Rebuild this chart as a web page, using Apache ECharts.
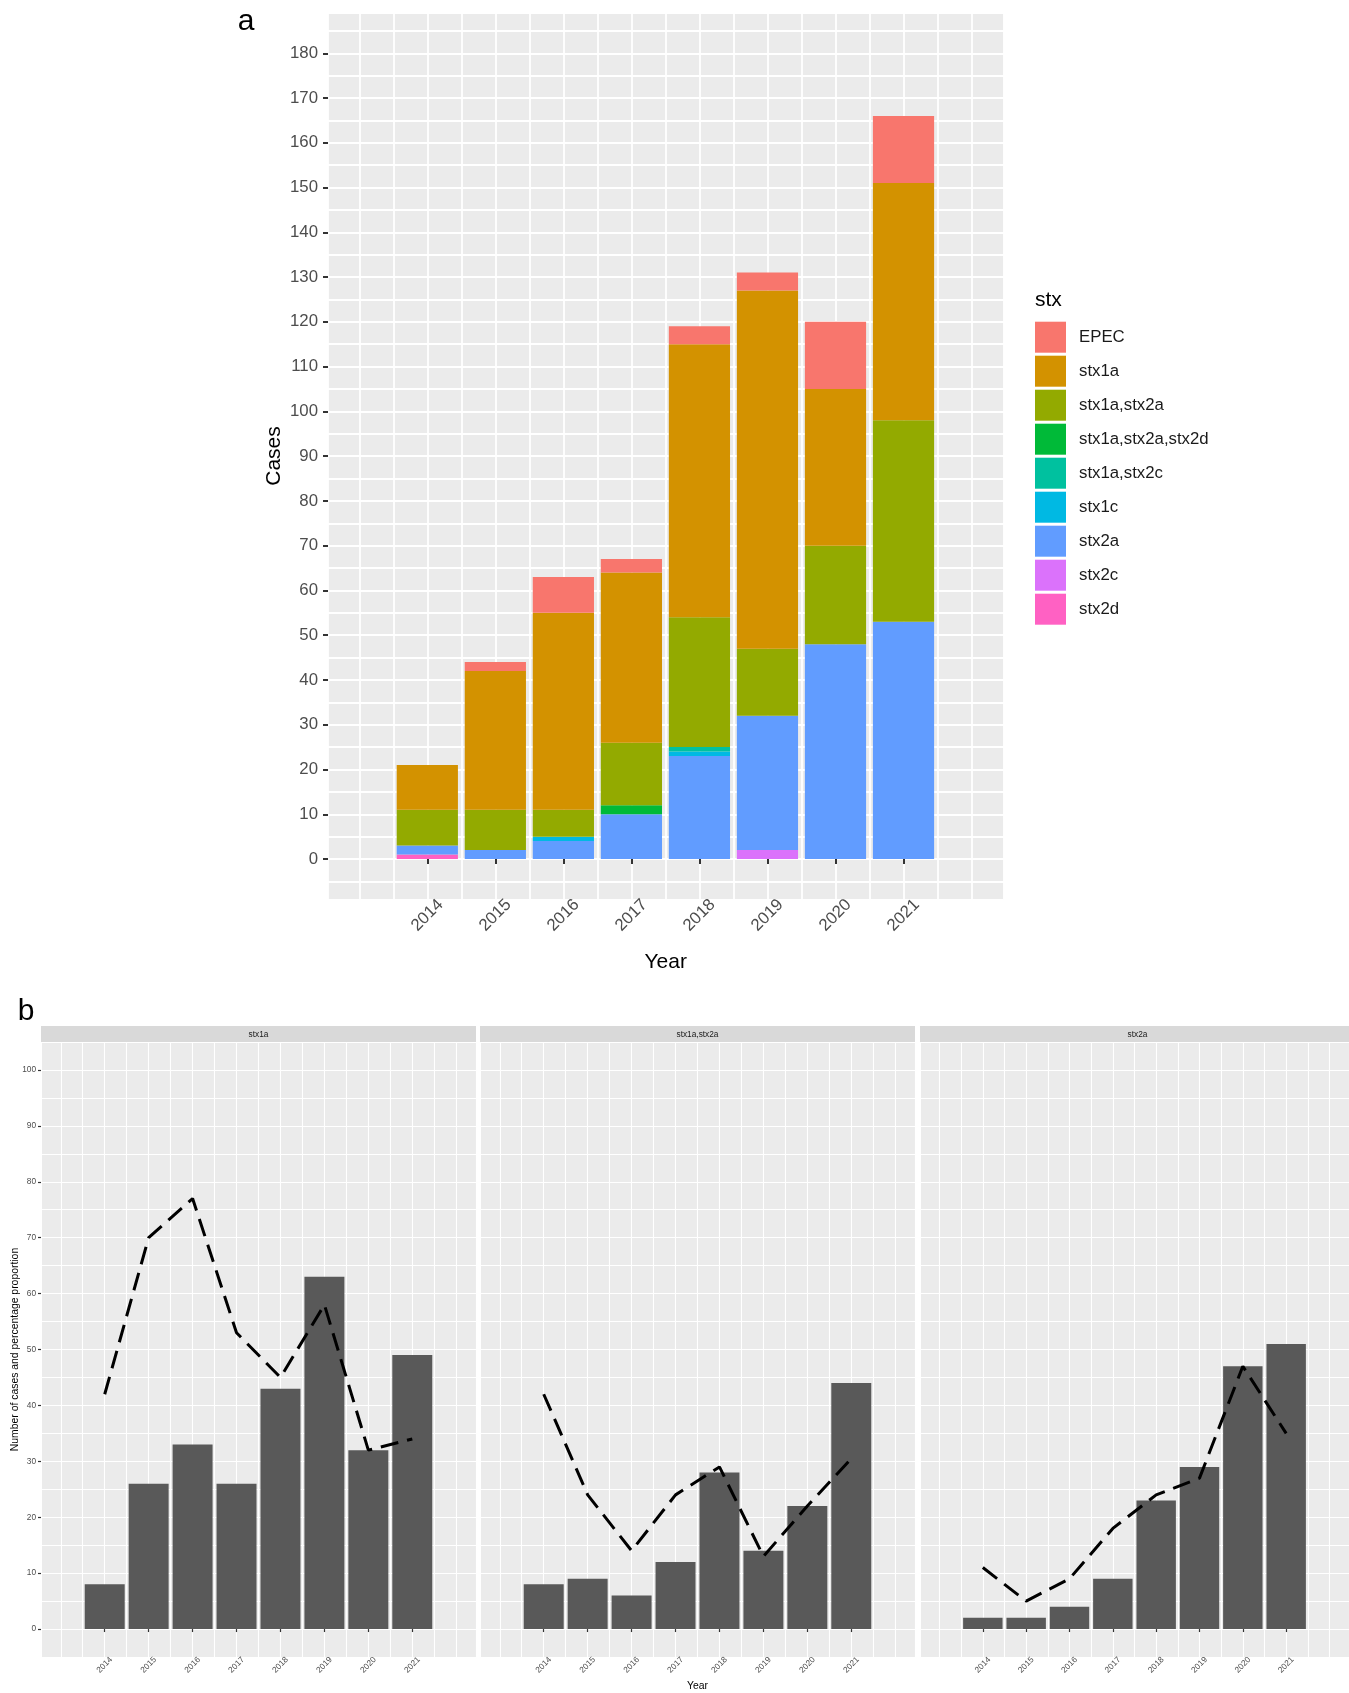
<!DOCTYPE html>
<html>
<head>
<meta charset="utf-8">
<script src="https://cdn.jsdelivr.net/npm/echarts@6/dist/echarts.min.js"></script>
<style>html,body{margin:0;padding:0;background:#fff}#c{width:1349px;height:1693px}</style>
</head>
<body>
<div id="c"></div>
<script>
// ---------- data ----------
const years = [2014, 2015, 2016, 2017, 2018, 2019, 2020, 2021];
const yTicksA = [0, 10, 20, 30, 40, 50, 60, 70, 80, 90, 100, 110, 120, 130, 140, 150, 160, 170, 180];
const yTicksB = [0, 10, 20, 30, 40, 50, 60, 70, 80, 90, 100];

// panel a: cases by stx profile
const stxNames = ['EPEC', 'stx1a', 'stx1a,stx2a', 'stx1a,stx2a,stx2d', 'stx1a,stx2c', 'stx1c', 'stx2a', 'stx2c', 'stx2d'];
const EPEC          = [0, 2, 8, 3, 4, 4, 15, 15];
const stx1a         = [10, 31, 44, 38, 61, 80, 35, 53];
const stx1a_stx2a   = [8, 9, 6, 14, 29, 15, 22, 45];
const stx1a_stx2a_stx2d = [0, 0, 0, 2, 0, 0, 0, 0];
const stx1a_stx2c   = [0, 0, 0, 0, 1, 0, 0, 0];
const stx1c         = [0, 0, 1, 0, 1, 0, 0, 0];
const stx2a         = [2, 2, 4, 10, 23, 30, 48, 53];
const stx2c         = [0, 0, 0, 0, 0, 2, 0, 0];
const stx2d         = [1, 0, 0, 0, 0, 0, 0, 0];
const stxColors = ['#F8766D', '#D39200', '#93AA00', '#00BA38', '#00C19F', '#00B9E3', '#619CFF', '#DB72FB', '#FF61C3'];

// panel b: facets
const facetNames = ['stx1a', 'stx1a,stx2a', 'stx2a'];
const casesStx1a       = [8, 26, 33, 26, 43, 63, 32, 49];
const pctStx1a         = [42, 70, 77, 53, 45, 58, 32, 34];
const casesStx1aStx2a  = [8, 9, 6, 12, 28, 14, 22, 44];
const pctStx1aStx2a    = [42, 24, 14, 24, 29, 13, 22, 30.5];
const casesStx2a       = [2, 2, 4, 9, 23, 29, 47, 51];
const pctStx2a         = [11, 5, 9, 18, 24, 27, 47, 35];

// ---------- build ----------
const stxArrays = [EPEC, stx1a, stx1a_stx2a, stx1a_stx2a_stx2d, stx1a_stx2c, stx1c, stx2a, stx2c, stx2d];
const facetCases = [casesStx1a, casesStx1aStx2a, casesStx2a];
const facetPct = [pctStx1a, pctStx1aStx2a, pctStx2a];

const FONT = '"Liberation Sans", Arial, sans-serif';
const pair = arr => years.map((y, i) => [y, arr[i]]);

const grids = [];
const xAxes = [];
const yAxes = [];
const series = [];
const graphics = [];

// ----- panel a (frame, grid lines, ticks, labels) -----
const aLeft = 328, aWidth = 675.5, aMin = 2012.54, aMax = 2022.47;
const aUnit = aWidth / (aMax - aMin);
grids.push({left: aLeft, top: 13, width: aWidth, height: 886.3, show: true, backgroundColor: '#ebebeb', borderWidth: 0});
xAxes.push({
  gridIndex: 0, type: 'value', min: aMin, max: aMax, position: 'bottom',
  axisLine: {show: false},
  axisTick: {show: true, customValues: years, length: 5, lineStyle: {color: '#333333', width: 2}},
  axisLabel: {customValues: years, rotate: 45, align: 'center', verticalAlign: 'middle', margin: 16,
    fontSize: 16.8, color: '#4d4d4d', fontFamily: FONT, formatter: v => String(v)},
  splitLine: {show: false}
});
xAxes.push({
  gridIndex: 0, type: 'value', min: aMin, max: aMax, position: 'top', splitNumber: 20,
  axisLine: {show: false}, axisTick: {show: false}, axisLabel: {show: false},
  splitLine: {show: true, lineStyle: {color: '#ffffff', width: 1.8}}
});
yAxes.push({
  gridIndex: 0, type: 'value', min: -9, max: 189,
  axisLine: {show: false},
  axisTick: {show: true, customValues: yTicksA, length: 5, lineStyle: {color: '#333333', width: 2}},
  axisLabel: {customValues: yTicksA, margin: 10, fontSize: 16.8, color: '#4d4d4d', fontFamily: FONT},
  splitLine: {show: false}
});
yAxes.push({
  gridIndex: 0, type: 'value', min: -9, max: 189, position: 'right', splitNumber: 40,
  axisLine: {show: false}, axisTick: {show: false}, axisLabel: {show: false},
  splitLine: {show: true, lineStyle: {color: '#ffffff', width: 1.8}}
});

// ----- panel b -----
const bLefts = [41, 480, 920];
facetNames.forEach((nm, f) => {
  const gi = f + 1;
  grids.push({left: bLefts[f], top: 1042, width: 435, height: 615, show: true, backgroundColor: '#ebebeb', borderWidth: 0});
  xAxes.push({
    gridIndex: gi, type: 'value', min: 2012.55, max: 2022.45, position: 'bottom',
    axisLine: {show: false},
    axisTick: {show: true, customValues: years, length: 3, lineStyle: {color: '#333333', width: 1.2}},
    axisLabel: {customValues: years, rotate: 45, align: 'center', verticalAlign: 'middle', margin: 8,
      fontSize: 8.3, color: '#4d4d4d', fontFamily: FONT, formatter: v => String(v)},
    splitLine: {show: false}
  });
  xAxes.push({
    gridIndex: gi, type: 'value', min: 2012.55, max: 2022.45, position: 'top', splitNumber: 20,
    axisLine: {show: false}, axisTick: {show: false}, axisLabel: {show: false},
    splitLine: {show: true, lineStyle: {color: '#ffffff', width: 1.1}}
  });
  yAxes.push({
    gridIndex: gi, type: 'value', min: -5, max: 105,
    axisLine: {show: false},
    axisTick: {show: f === 0, customValues: yTicksB, length: 3, lineStyle: {color: '#333333', width: 1.2}},
    axisLabel: {show: f === 0, customValues: yTicksB, margin: 5, fontSize: 8.3, color: '#4d4d4d', fontFamily: FONT},
    splitLine: {show: false}
  });
  yAxes.push({
    gridIndex: gi, type: 'value', min: -5, max: 105, interval: 5, position: 'right',
    axisLine: {show: false}, axisTick: {show: false}, axisLabel: {show: false},
    splitLine: {show: true, lineStyle: {color: '#ffffff', width: 1.1}}
  });
  series.push({
    name: nm + ' cases', type: 'bar', xAxisIndex: 2 * gi, yAxisIndex: 2 * gi,
    barWidth: '91%', itemStyle: {color: '#595959'}, z: 2,
    data: pair(facetCases[f])
  });
  series.push({
    name: nm + ' %', type: 'line', xAxisIndex: 2 * gi, yAxisIndex: 2 * gi,
    symbol: 'none', showSymbol: false, z: 3,
    lineStyle: {color: '#000000', width: 3, type: [18, 9], cap: 'butt'},
    data: pair(facetPct[f])
  });
  graphics.push({type: 'rect', x: bLefts[f], y: 1026, shape: {x: 0, y: 0, width: 435, height: 16.5},
    style: {fill: '#d9d9d9'}});
  graphics.push({type: 'text', x: bLefts[f] + 217.5, y: 1034.5,
    style: {text: nm, fontSize: 8.3, fontFamily: FONT, fill: '#1a1a1a', align: 'center', verticalAlign: 'middle'}});
});

// ----- panel a bars: category grid spanning the year bands (2013.5 .. 2021.5) -----
const barGridIndex = grids.length;
grids.push({left: aLeft + (years[0] - 0.5 - aMin) * aUnit, top: 13, width: years.length * aUnit, height: 886.3, show: false});
xAxes.push({gridIndex: barGridIndex, type: 'category', data: years.map(String), boundaryGap: true, show: false});
yAxes.push({gridIndex: barGridIndex, type: 'value', min: -9, max: 189, show: false});
const barX = xAxes.length - 1, barY = yAxes.length - 1;
for (let k = stxNames.length - 1; k >= 0; k--) {
  series.push({
    name: stxNames[k], type: 'bar', stack: 'a', xAxisIndex: barX, yAxisIndex: barY,
    barWidth: '90%', itemStyle: {color: stxColors[k]}, z: 2,
    data: stxArrays[k]
  });
}

// titles / labels
graphics.push({type: 'text', x: 246, y: 21.5, style: {text: 'a', fontSize: 30, fontFamily: FONT, fill: '#000', align: 'center', verticalAlign: 'middle'}});
graphics.push({type: 'text', x: 26, y: 1011.5, style: {text: 'b', fontSize: 30, fontFamily: FONT, fill: '#000', align: 'center', verticalAlign: 'middle'}});
graphics.push({type: 'text', x: 1035, y: 300.6, style: {text: 'stx', fontSize: 21, fontFamily: FONT, fill: '#000', align: 'left', verticalAlign: 'middle'}});
graphics.push({type: 'text', x: 274, y: 456, rotation: Math.PI / 2, style: {text: 'Cases', fontSize: 21, fontFamily: FONT, fill: '#000', align: 'center', verticalAlign: 'middle'}});
graphics.push({type: 'text', x: 665.7, y: 962, style: {text: 'Year', fontSize: 21, fontFamily: FONT, fill: '#000', align: 'center', verticalAlign: 'middle'}});
graphics.push({type: 'text', x: 15, y: 1349.5, rotation: Math.PI / 2, style: {text: 'Number of cases and percentage proportion', fontSize: 10.4, fontFamily: FONT, fill: '#000', align: 'center', verticalAlign: 'middle'}});
graphics.push({type: 'text', x: 697.5, y: 1686.4, style: {text: 'Year', fontSize: 10.4, fontFamily: FONT, fill: '#000', align: 'center', verticalAlign: 'middle'}});

const chart = echarts.init(document.getElementById('c'), null, {renderer: 'canvas'});
chart.setOption({
  animation: false,
  backgroundColor: '#ffffff',
  textStyle: {fontFamily: FONT},
  grid: grids,
  xAxis: xAxes,
  yAxis: yAxes,
  legend: {
    data: stxNames, orient: 'vertical', left: 1035, top: 321.7, padding: 0,
    itemWidth: 31, itemHeight: 31, itemGap: 3, icon: 'rect', selectedMode: false,
    textStyle: {fontSize: 16.8, color: '#1a1a1a', fontFamily: FONT, padding: [0, 0, 0, 8]}
  },
  tooltip: {show: false},
  graphic: graphics,
  series: series
});
</script>
</body>
</html>
